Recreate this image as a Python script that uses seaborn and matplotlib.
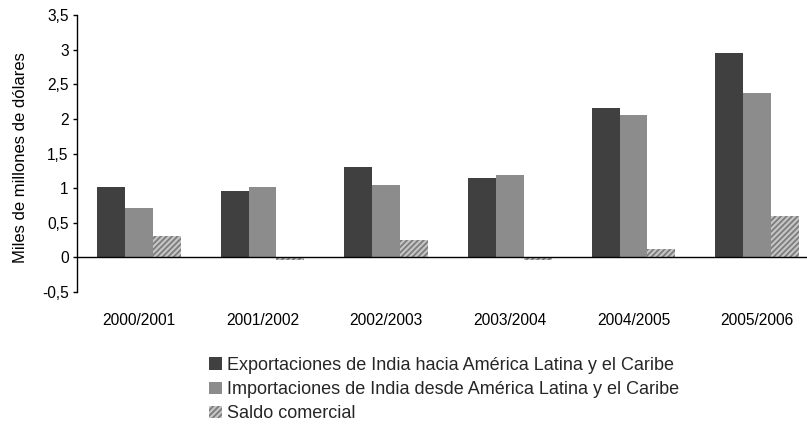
import matplotlib
matplotlib.use("Agg")
import matplotlib.pyplot as plt
from matplotlib.patches import Patch
import seaborn as sns
import pandas as pd

# Trade between India and Latin America & the Caribbean (billions of US$)
periods = ["2000/2001", "2001/2002", "2002/2003", "2003/2004", "2004/2005", "2005/2006"]
exports = [1.01, 0.96, 1.31, 1.15, 2.16, 2.95]
imports = [0.71, 1.01, 1.05, 1.19, 2.06, 2.37]
balance = [0.31, -0.04, 0.25, -0.04, 0.12, 0.60]

series_names = [
    "Exportaciones de India hacia América Latina y el Caribe",
    "Importaciones de India desde América Latina y el Caribe",
    "Saldo comercial",
]
ytick_values = [-0.5, 0, 0.5, 1, 1.5, 2, 2.5, 3, 3.5]
ytick_labels = ["-0,5", "0", "0,5", "1", "1,5", "2", "2,5", "3", "3,5"]
y_title = "Miles de millones de dólares"

colors = ["#404040", "#8c8c8c", "#7a7a7a"]

df = pd.DataFrame({
    "periodo": periods * 3,
    "valor": exports + imports + balance,
    "serie": [series_names[0]] * 6 + [series_names[1]] * 6 + [series_names[2]] * 6,
})

sns.set_theme(style="white")
plt.rcParams["font.family"] = ["Liberation Sans", "DejaVu Sans"]
plt.rcParams["hatch.linewidth"] = 1.6

fig = plt.figure(figsize=(8.07, 4.34), dpi=100)
ax = fig.add_axes([77 / 807, 1 - 292 / 434, 742 / 807, 277 / 434])

sns.barplot(data=df, x="periodo", y="valor", hue="serie", order=periods,
            hue_order=series_names, palette=colors, width=0.675,
            saturation=1, gap=0, legend=False, ax=ax, errorbar=None)

# Hatched pattern for the trade balance bars
for bar in ax.containers[2]:
    bar.set_hatch("//////")
    bar.set_edgecolor("#c4c4c4")
    bar.set_linewidth(0)
for cont in ax.containers[:2]:
    for bar in cont:
        bar.set_linewidth(0)

ax.set_xlim(-0.5, 5.5)
ax.set_ylim(-0.5, 3.5)
ax.set_yticks(ytick_values)
ax.set_yticklabels(ytick_labels)
ax.set_xlabel("")
ax.set_ylabel(y_title, fontsize=12, color="black")
ax.yaxis.set_label_coords(-0.066, 0.484)

for side in ("top", "right"):
    ax.spines[side].set_visible(False)
ax.spines["bottom"].set_position(("data", 0))
for side in ("left", "bottom"):
    ax.spines[side].set_color("black")
    ax.spines[side].set_linewidth(1.0)

ax.set_xticks(range(len(periods)))
ax.set_xticklabels(periods)
ax.set_xticks([i - 0.5 for i in range(len(periods) + 1)], minor=True)
ax.tick_params(axis="x", which="major", length=0, pad=40, labelsize=11.2, labelcolor="black")
ax.tick_params(axis="x", which="minor", length=4, width=1, direction="out", color="black")
ax.tick_params(axis="y", which="major", length=3, width=1, direction="out", color="black",
               left=True, labelsize=11.2, labelcolor="black", pad=3)

handles = [
    Patch(facecolor=colors[0], edgecolor="none"),
    Patch(facecolor=colors[1], edgecolor="none"),
    Patch(facecolor=colors[2], edgecolor="#c4c4c4", hatch="//////", linewidth=0),
]
fig.legend(handles, series_names, loc="upper left", bbox_to_anchor=(209 / 807, 1 - 357 / 434),
           frameon=False, fontsize=13, handlelength=0.7, handleheight=0.7,
           handletextpad=0.3, labelspacing=0.4, borderpad=0, borderaxespad=0)

fig.savefig("out.png", dpi=100)
